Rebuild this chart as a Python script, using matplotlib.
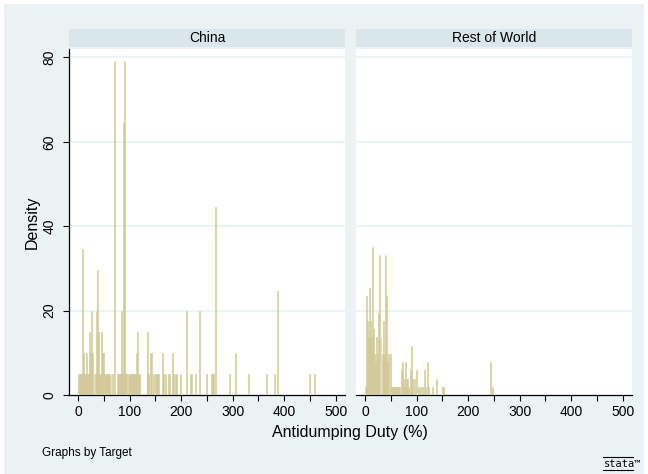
import matplotlib
matplotlib.use("Agg")
import matplotlib.pyplot as plt
from matplotlib.patches import Rectangle

plt.rcParams['font.family'] = ['Liberation Sans', 'DejaVu Sans']

# ---- data (bar center in Antidumping Duty %, density height) ----
china_unit = 4.95
china_x = [0, 2, 5, 7, 9, 11, 13, 15, 17, 19, 21, 23, 25, 27, 29, 31, 33, 35, 37, 38.5,
           40, 42, 44, 46, 48, 50, 52, 54, 56, 58, 60, 62, 64, 66, 70.5, 76, 78, 80, 82,
           84, 86, 87.5, 90, 92, 95, 97, 99, 101, 103, 105, 107, 109, 111, 112.6, 115.8,
           118, 120, 134, 135.5, 137, 141, 143, 146, 150, 153, 155, 157, 164, 166, 169,
           175, 177, 184, 186, 189, 191, 199, 211, 219, 221, 228, 235, 250, 259, 261, 263,
           266.7, 294, 306, 330, 366, 381, 387, 449, 459]
china_count = [1, 1, 1, 1, 7, 2, 1, 1, 2, 1, 1, 3, 2, 4, 2, 1, 1, 4, 1, 6,
               3, 1, 1, 3, 2, 2, 1, 1, 1, 1, 1, 1, 1, 1, 16, 1, 1, 1, 1,
               4, 1, 13, 16, 1, 1, 1, 1, 1, 1, 1, 1, 1, 1, 2, 3,
               1, 1, 1, 3, 1, 2, 2, 1, 1, 1, 1, 1, 2, 1, 1,
               1, 1, 2, 1, 1, 1, 1, 4, 1, 1, 1, 4, 1, 1, 1, 1,
               9, 1, 2, 1, 1, 1, 5, 1, 1]

row_unit = 1.95
row_x = [0.5, 2.5, 3.5, 5.5, 7.5, 9.5, 11.5, 13, 15, 17, 19, 21, 23, 24.5, 26.5, 29,
         31, 33, 35, 36.5, 38.5, 40.5, 42.5, 44.5, 46.5, 48.5, 51, 53, 55, 57, 59, 61,
         63, 65, 67, 70, 72, 74, 76, 78, 80, 82, 85, 88, 90, 92, 96, 100, 104, 108,
         112, 116, 118, 121, 123, 130, 138, 150, 152, 243, 248]
row_count = [1, 1, 12, 9, 7, 13, 9, 7, 18, 8, 5, 4, 7, 5, 10, 17,
             7, 5, 4, 9, 5, 17, 12, 4, 5, 5, 1, 1, 1, 1, 1, 1,
             1, 1, 1, 3, 4, 2, 1, 4, 2, 2, 1, 3, 6, 2, 2, 3, 1, 1,
             1, 3, 1, 4, 1, 1, 2, 1, 1, 4, 1]

panels = ["China", "Rest of World"]
xticks_major = [0, 100, 200, 300, 400, 500]
yticks = [0, 20, 40, 60, 80]

bg = '#EAF2F3'
strip_c = '#D9E6EB'
bar_face = '#D8D2A0'
bar_edge = '#CEC690'

fig = plt.figure(figsize=(6.48, 4.74), dpi=100, facecolor='white')
fig.patches.append(Rectangle((4/648, 0), 640/648, 470/474, transform=fig.transFigure,
                             facecolor=bg, edgecolor='none', zorder=-10))

W, H = 648, 474
def fx(px): return px / W
def fy(py): return 1 - py / H

left_px = [69, 356]
width_px = 276
top_px, bot_px = 49, 395

datasets = [(china_x, [c * china_unit for c in china_count]),
            (row_x, [c * row_unit for c in row_count])]

for i, (name, (xs, hs)) in enumerate(zip(panels, datasets)):
    ax = fig.add_axes([fx(left_px[i]), fy(bot_px), width_px / W, (bot_px - top_px) / H])
    ax.set_facecolor('white')
    ax.bar(xs, hs, width=1.9, color=bar_face, edgecolor=bar_edge, linewidth=0.4, zorder=3)
    ax.set_xlim(-17.5, 518)
    ax.set_ylim(0, 82)
    for y in yticks[1:]:
        ax.axhline(y, color=bg, linewidth=1.2, zorder=1)
    for s in ['top', 'right']:
        ax.spines[s].set_visible(False)
    ax.spines['bottom'].set_linewidth(0.9)
    ax.set_xticks(list(range(0, 501, 50)))
    ax.set_xticklabels([str(v) if v in xticks_major else '' for v in range(0, 501, 50)],
                       fontsize=10)
    ax.tick_params(axis='x', length=4, width=0.8, pad=3)
    if i == 0:
        ax.spines['left'].set_linewidth(0.9)
        ax.set_yticks(yticks)
        ax.set_yticklabels([str(v) for v in yticks], fontsize=10, rotation=90, va='center')
        ax.tick_params(axis='y', length=4, width=0.8, pad=5)
        ax.set_ylabel('Density', fontsize=11.5, labelpad=2)
    else:
        ax.spines['left'].set_visible(False)
        ax.set_yticks([])
    # strip header
    fig.patches.append(Rectangle((fx(left_px[i]), fy(top_px - 2)), width_px / W, 18 / H,
                                 transform=fig.transFigure, facecolor=strip_c,
                                 edgecolor='none', zorder=1))
    fig.text(fx(left_px[i] + width_px / 2), fy(top_px - 11), name, ha='center', va='center',
             fontsize=10)

fig.text(fx(350), fy(432), 'Antidumping Duty (%)', ha='center', va='center', fontsize=11.5)
fig.text(fx(42), fy(453), 'Graphs by Target', ha='left', va='center', fontsize=8.5)
fig.text(fx(641), fy(464), 'stata™', ha='right', va='center', fontsize=7.5,
         family='DejaVu Sans Mono')
fig.add_artist(plt.Line2D([fx(603), fx(633)], [fy(457), fy(457)], color='black', linewidth=0.8))
fig.add_artist(plt.Line2D([fx(603), fx(633)], [fy(470), fy(470)], color='black', linewidth=0.8))

fig.savefig('out.png', dpi=100, facecolor='white')
